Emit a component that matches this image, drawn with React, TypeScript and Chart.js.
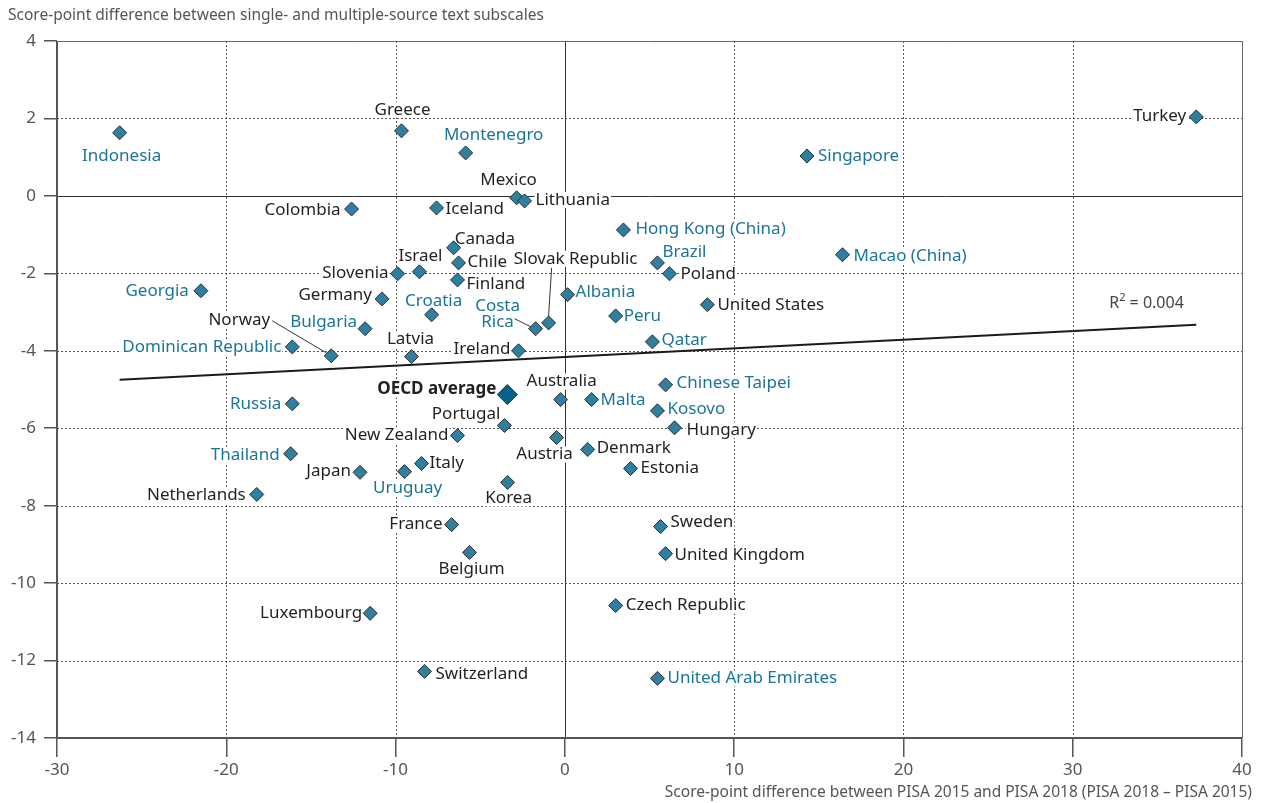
import { useEffect, useRef } from 'react';
import { Chart, registerables } from 'chart.js';

Chart.register(...registerables);

// ---------- data ----------
const countries = [
  'Indonesia', 'Greece', 'Montenegro', 'Mexico', 'Lithuania', 'Colombia', 'Iceland', 'Singapore', 'Turkey',
  'Hong Kong (China)', 'Macao (China)', 'Canada', 'Chile', 'Israel', 'Slovenia', 'Finland', 'Brazil', 'Poland',
  'Albania', 'Georgia', 'Germany', 'Croatia', 'United States', 'Peru', 'Bulgaria', 'Costa Rica', 'Slovak Republic',
  'Qatar', 'Dominican Republic', 'Norway', 'Latvia', 'Ireland', 'Australia', 'Malta', 'Chinese Taipei', 'Kosovo',
  'Russia', 'Portugal', 'Hungary', 'New Zealand', 'Austria', 'Denmark', 'Thailand', 'Italy', 'Japan', 'Uruguay',
  'Estonia', 'Korea', 'Netherlands', 'France', 'Sweden', 'Belgium', 'United Kingdom', 'Czech Republic',
  'Luxembourg', 'Switzerland', 'United Arab Emirates',
];
const xValues = [
  -26.3, -9.65, -5.86, -2.85, -2.38, -12.6, -7.58, 14.3, 37.3,
  3.46, 16.4, -6.57, -6.28, -8.59, -9.88, -6.34, 5.47, 6.18,
  0.16, -21.5, -10.8, -7.87, 8.42, 3.0, -11.8, -1.73, -0.96,
  5.17, -16.1, -13.8, -9.06, -2.74, -0.25, 1.58, 5.95, 5.47,
  -16.1, -3.57, 6.48, -6.34, -0.49, 1.35, -16.2, -8.47, -12.1, -9.47,
  3.88, -3.38, -18.2, -6.69, 5.65, -5.63, 5.95, 3.0,
  -11.5, -8.29, 5.47,
];
const yValues = [
  1.63, 1.68, 1.11, -0.05, -0.13, -0.34, -0.31, 1.03, 2.04,
  -0.88, -1.52, -1.34, -1.73, -1.96, -2.01, -2.17, -1.73, -2.01,
  -2.55, -2.45, -2.66, -3.07, -2.81, -3.1, -3.43, -3.43, -3.28,
  -3.77, -3.9, -4.13, -4.15, -4.0, -5.26, -5.26, -4.88, -5.55,
  -5.37, -5.93, -5.99, -6.19, -6.24, -6.55, -6.66, -6.91, -7.14, -7.12,
  -7.04, -7.4, -7.71, -8.49, -8.54, -9.21, -9.24, -10.58,
  -10.78, -12.28, -12.46,
];
const partnerCountries = [
  'Indonesia', 'Montenegro', 'Singapore', 'Hong Kong (China)', 'Macao (China)', 'Brazil', 'Albania', 'Georgia',
  'Croatia', 'Peru', 'Bulgaria', 'Costa Rica', 'Qatar', 'Dominican Republic', 'Russia', 'Malta', 'Chinese Taipei',
  'Kosovo', 'Thailand', 'Uruguay', 'United Arab Emirates',
];
const averageLabel = 'OECD average';
const averageX = [-3.4];
const averageY = [-5.13];
const trendX = [-26.3, 37.3];
const trendY = [-4.75, -3.33];
const rSquaredText = ['R', '2', ' = 0.004'];
const rSquaredPos = [34.36, -2.79];
const yTitle = 'Score-point difference between single- and multiple-source text subscales';
const xTitle = 'Score-point difference between PISA 2015 and PISA 2018 (PISA 2018 \u2013 PISA 2015)';

// ---------- label placement (pixel offsets from the marker) ----------
type Place = { a: CanvasTextAlign; dx: number; dy: number; lines?: string[]; leader?: number[] };
const placement: Record<string, Place> = {
  'Indonesia': { a: 'center', dx: 2, dy: 23 },
  'Greece': { a: 'center', dx: 1, dy: -21 },
  'Montenegro': { a: 'center', dx: 28, dy: -18 },
  'Mexico': { a: 'center', dx: -8, dy: -18 },
  'Lithuania': { a: 'left', dx: 11, dy: -1 },
  'Colombia': { a: 'right', dx: -11, dy: 1 },
  'Iceland': { a: 'left', dx: 9, dy: 1 },
  'Singapore': { a: 'left', dx: 11, dy: 0 },
  'Turkey': { a: 'right', dx: -10, dy: -1 },
  'Hong Kong (China)': { a: 'left', dx: 12, dy: -1 },
  'Macao (China)': { a: 'left', dx: 11, dy: 1 },
  'Canada': { a: 'left', dx: 1, dy: -9 },
  'Chile': { a: 'left', dx: 9, dy: -1 },
  'Israel': { a: 'center', dx: 1, dy: -16 },
  'Slovenia': { a: 'right', dx: -9, dy: -1 },
  'Finland': { a: 'left', dx: 9, dy: 4 },
  'Brazil': { a: 'left', dx: 5, dy: -11 },
  'Poland': { a: 'left', dx: 11, dy: 0 },
  'Albania': { a: 'left', dx: 8, dy: -2 },
  'Georgia': { a: 'right', dx: -12, dy: 0 },
  'Germany': { a: 'right', dx: -10, dy: -4 },
  'Croatia': { a: 'center', dx: 2, dy: -14 },
  'United States': { a: 'left', dx: 10, dy: 0 },
  'Peru': { a: 'left', dx: 8, dy: 0 },
  'Bulgaria': { a: 'right', dx: -8, dy: -7 },
  'Costa Rica': { a: 'center', dx: -38, dy: -15, lines: ['Costa', 'Rica'], leader: [-21, -10, -5, -2] },
  'Slovak Republic': { a: 'center', dx: 27, dy: -64, leader: [3, -55, 0, -7] },
  'Qatar': { a: 'left', dx: 9, dy: -2 },
  'Dominican Republic': { a: 'right', dx: -11, dy: 0 },
  'Norway': { a: 'right', dx: -61, dy: -36, leader: [-59, -35, -5, -3] },
  'Latvia': { a: 'center', dx: -1, dy: -17 },
  'Ireland': { a: 'right', dx: -8, dy: -2 },
  'Australia': { a: 'center', dx: 1, dy: -18 },
  'Malta': { a: 'left', dx: 9, dy: 1 },
  'Chinese Taipei': { a: 'left', dx: 11, dy: -2 },
  'Kosovo': { a: 'left', dx: 10, dy: -2 },
  'Russia': { a: 'right', dx: -11, dy: 0 },
  'Portugal': { a: 'right', dx: -4, dy: -11 },
  'Hungary': { a: 'left', dx: 12, dy: 2 },
  'New Zealand': { a: 'right', dx: -9, dy: 0 },
  'Austria': { a: 'center', dx: -12, dy: 17 },
  'Denmark': { a: 'left', dx: 9, dy: -1 },
  'Thailand': { a: 'right', dx: -11, dy: 1 },
  'Italy': { a: 'left', dx: 8, dy: 0 },
  'Japan': { a: 'right', dx: -9, dy: -1 },
  'Uruguay': { a: 'center', dx: 3, dy: 17 },
  'Estonia': { a: 'left', dx: 10, dy: 0 },
  'Korea': { a: 'center', dx: 1, dy: 16 },
  'Netherlands': { a: 'right', dx: -11, dy: 1 },
  'France': { a: 'right', dx: -9, dy: 0 },
  'Sweden': { a: 'left', dx: 10, dy: -4 },
  'Belgium': { a: 'center', dx: 2, dy: 17 },
  'United Kingdom': { a: 'left', dx: 9, dy: 1 },
  'Czech Republic': { a: 'left', dx: 10, dy: 0 },
  'Luxembourg': { a: 'right', dx: -8, dy: 0 },
  'Switzerland': { a: 'left', dx: 11, dy: 3 },
  'United Arab Emirates': { a: 'left', dx: 10, dy: 0 },
  'OECD average': { a: 'right', dx: -11, dy: -5 },
};

const FONT = '"Noto Sans", "Open Sans", sans-serif';
const BLUE_TEXT = '#1b7598';
const DARK_TEXT = '#231f20';
const GRID = '#555555';

const overlayPlugin = {
  id: 'overlay',
  beforeDatasetsDraw(chart: any) {
    const { ctx, chartArea: a } = chart;
    const xs = chart.scales.x;
    const ys = chart.scales.y;
    ctx.save();
    // dotted grid
    ctx.lineWidth = 1;
    ctx.strokeStyle = GRID;
    ctx.setLineDash([2, 2]);
    xs.ticks.forEach((t: any) => {
      if (t.value === 0 || t.value === xs.min || t.value === xs.max) return;
      const px = Math.round(xs.getPixelForValue(t.value)) + 0.5;
      ctx.beginPath(); ctx.moveTo(px, a.top); ctx.lineTo(px, a.bottom); ctx.stroke();
    });
    ys.ticks.forEach((t: any) => {
      if (t.value === 0 || t.value === ys.min || t.value === ys.max) return;
      const py = Math.round(ys.getPixelForValue(t.value)) + 0.5;
      ctx.beginPath(); ctx.moveTo(a.left, py); ctx.lineTo(a.right, py); ctx.stroke();
    });
    ctx.setLineDash([]);
    // zero lines
    ctx.strokeStyle = '#333';
    const zx = Math.round(xs.getPixelForValue(0)) + 0.5;
    const zy = Math.round(ys.getPixelForValue(0)) + 0.5;
    ctx.beginPath(); ctx.moveTo(zx, a.top); ctx.lineTo(zx, a.bottom); ctx.stroke();
    ctx.beginPath(); ctx.moveTo(a.left, zy); ctx.lineTo(a.right, zy); ctx.stroke();
    // box
    ctx.strokeStyle = '#666';
    ctx.lineWidth = 1;
    ctx.beginPath(); ctx.moveTo(a.left, Math.round(a.top) + 0.5); ctx.lineTo(a.right, Math.round(a.top) + 0.5); ctx.stroke();
    ctx.beginPath(); ctx.moveTo(Math.round(a.right) + 0.5, a.top); ctx.lineTo(Math.round(a.right) + 0.5, a.bottom); ctx.stroke();
    ctx.lineWidth = 2;
    ctx.strokeStyle = '#555';
    ctx.beginPath(); ctx.moveTo(Math.round(a.left), a.top); ctx.lineTo(Math.round(a.left), a.bottom + 1); ctx.stroke();
    ctx.beginPath(); ctx.moveTo(a.left - 1, Math.round(a.bottom)); ctx.lineTo(a.right, Math.round(a.bottom)); ctx.stroke();

    // labels
    const drawLabel = (name: string, vx: number, vy: number, bold: boolean, color: string) => {
      const p = placement[name];
      if (!p) return;
      const px = xs.getPixelForValue(vx);
      const py = ys.getPixelForValue(vy);
      ctx.font = (bold ? 'bold ' : '') + '17px ' + FONT;
      ctx.textBaseline = 'middle';
      ctx.textAlign = p.a;
      const lines = p.lines || [name];
      const lh = 16;
      const startY = py + p.dy - ((lines.length - 1) * lh) / 2;
      lines.forEach((ln, i) => {
        const w = ctx.measureText(ln).width;
        const tx = px + p.dx;
        const ty = startY + i * lh;
        let left = tx;
        if (p.a === 'center') left = tx - w / 2;
        else if (p.a === 'right') left = tx - w;
        ctx.fillStyle = '#ffffff';
        ctx.fillRect(left - 1, ty - 8, w + 2, 16);
      });
      lines.forEach((ln, i) => {
        ctx.fillStyle = color;
        ctx.fillText(ln, px + p.dx, startY + i * lh);
      });
      if (p.leader) {
        ctx.strokeStyle = '#333';
        ctx.lineWidth = 1;
        ctx.beginPath();
        ctx.moveTo(px + p.leader[0], py + p.leader[1]);
        ctx.lineTo(px + p.leader[2], py + p.leader[3]);
        ctx.stroke();
      }
    };
    countries.forEach((c, i) => {
      drawLabel(c, xValues[i], yValues[i], false, partnerCountries.includes(c) ? BLUE_TEXT : DARK_TEXT);
    });
    drawLabel(averageLabel, averageX[0], averageY[0], true, DARK_TEXT);
    ctx.restore();
  },
  afterDraw(chart: any) {
    const { ctx } = chart;
    const xs = chart.scales.x;
    const ys = chart.scales.y;
    ctx.save();
    ctx.fillStyle = '#555';
    ctx.font = '15.5px ' + FONT;
    ctx.textBaseline = 'middle';
    ctx.textAlign = 'left';
    ctx.fillText(yTitle, 8, 16);
    ctx.textAlign = 'right';
    ctx.fillText(xTitle, 1252, 793);
    // R squared
    const rx = xs.getPixelForValue(rSquaredPos[0]);
    const ry = ys.getPixelForValue(rSquaredPos[1]);
    ctx.fillStyle = '#444';
    ctx.font = '16px ' + FONT;
    const w1 = ctx.measureText(rSquaredText[0]).width;
    const w3 = ctx.measureText(rSquaredText[2]).width;
    ctx.font = '11px ' + FONT;
    const w2 = ctx.measureText(rSquaredText[1]).width;
    let sx = rx - (w1 + w2 + w3) / 2;
    ctx.textAlign = 'left';
    ctx.font = '16px ' + FONT;
    ctx.fillText(rSquaredText[0], sx, ry);
    sx += w1;
    ctx.font = '11px ' + FONT;
    ctx.fillText(rSquaredText[1], sx, ry - 6);
    sx += w2;
    ctx.font = '16px ' + FONT;
    ctx.fillText(rSquaredText[2], sx, ry);
    ctx.restore();
  },
};

export default function App() {
  const canvasRef = useRef<HTMLCanvasElement | null>(null);
  useEffect(() => {
    if (!canvasRef.current) return;
    const chart = new Chart(canvasRef.current, {
      type: 'scatter',
      data: {
        datasets: [
          {
            type: 'line',
            label: 'Trend',
            data: trendX.map((x, i) => ({ x, y: trendY[i] })),
            borderColor: '#1a1a1a',
            borderWidth: 2,
            pointRadius: 0,
            fill: false,
          } as any,
          {
            label: 'Countries',
            data: xValues.map((x, i) => ({ x, y: yValues[i] })),
            pointStyle: 'rectRot',
            pointRadius: 7,
            backgroundColor: '#2f80a0',
            borderColor: '#2b2b2b',
            borderWidth: 1,
          },
          {
            label: averageLabel,
            data: averageX.map((x, i) => ({ x, y: averageY[i] })),
            pointStyle: 'rectRot',
            pointRadius: 10,
            backgroundColor: '#04618a',
            borderColor: '#2b2b2b',
            borderWidth: 1,
          },
        ],
      },
      options: {
        responsive: false,
        animation: false,
        layout: { padding: { top: 41, right: 19, left: 0, bottom: 0 } },
        plugins: { legend: { display: false }, tooltip: { enabled: false } },
        scales: {
          x: {
            type: 'linear',
            min: -30,
            max: 40,
            ticks: { stepSize: 10, color: '#555', font: { family: FONT, size: 17 }, padding: 3 },
            grid: { drawOnChartArea: false, drawTicks: true, tickLength: 19, color: '#555', lineWidth: 1.5 },
            border: { display: false },
            afterFit: (s: any) => { s.height = 65; },
          },
          y: {
            type: 'linear',
            min: -14,
            max: 4,
            ticks: { stepSize: 2, color: '#555', font: { family: FONT, size: 17 }, padding: 8 },
            grid: { drawOnChartArea: false, drawTicks: true, tickLength: 13, color: '#555', lineWidth: 1.5 },
            border: { display: false },
            afterFit: (s: any) => { s.width = 57; },
          },
        },
      },
      plugins: [overlayPlugin],
    });
    return () => chart.destroy();
  }, []);
  return (
    <div style={{ position: 'absolute', left: 0, top: 0, width: 1261, height: 803, background: '#fff' }}>
      <canvas ref={canvasRef} width={1261} height={803} />
    </div>
  );
}
